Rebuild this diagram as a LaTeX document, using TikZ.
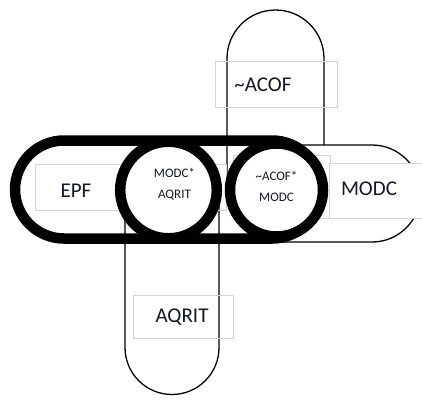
\documentclass[tikz,border=0pt]{standalone}
\usepackage{fontspec}
\setmainfont{Carlito}
\definecolor{ink}{RGB}{22,22,36}
\definecolor{framegray}{RGB}{212,212,212}
\begin{document}
\begin{tikzpicture}[x=1pt,y=-1pt,
  outline/.style={draw=black, line width=1.3pt},
  thickring/.style={draw=black, line width=10.5pt},
  textframe/.style={draw=framegray, line width=0.8pt},
  biglabel/.style={font=\fontsize{21}{25}\selectfont, text=ink, inner sep=0pt},
  smalllabel/.style={font=\fontsize{13}{21}\selectfont, text=ink, align=center, inner sep=0pt}]
\useasboundingbox (0,0) rectangle (422,399);

% thin capsules: ~ACOF (upright), AQRIT (hanging), MODC (to the right)
\draw[outline, rounded corners=48.5pt] (227,10) rectangle (324,238.5);
\draw[outline, rounded corners=47pt] (125,143) rectangle (219,394.5);
\draw[outline, fill=white, rounded corners=48.5pt] (228,145) rectangle (420.5,242);

% light text frames
\draw[textframe] (35,164) rectangle (226,210);
\draw[textframe] (233,155) rectangle (330,218);
\draw[textframe, fill=white] (329,163) rectangle (430,218);
\draw[textframe] (215,61) rectangle (337,107);
\draw[textframe] (133,295) rectangle (233,338);

% heavy EPF band
\draw[thickring, rounded corners=49pt] (15,140.5) rectangle (321,238.5);

% heavy intersection rings
\node[thickring, circle, fill=white, minimum size=96.6pt, inner sep=0pt] (ringa) at (168.5,190) {};
\node[thickring, circle, fill=white, minimum size=93pt, inner sep=0pt] (ringb) at (276.5,190) {};

% labels
\node[biglabel] (epf) at (76,191) {EPF};
\node[biglabel] (modc) at (369,189) {MODC};
\node[biglabel] (acof) at (263,85) {\textasciitilde ACOF};
\node[biglabel] (aqrit) at (182,317) {AQRIT};
\node[smalllabel] (mixa) at (ringa.center) [xshift=6pt, yshift=5.5pt] {MODC*\\AQRIT};
\node[smalllabel] (mixb) at (ringb.center) [yshift=4pt] {\textasciitilde ACOF*\\MODC};
\end{tikzpicture}
\end{document}
